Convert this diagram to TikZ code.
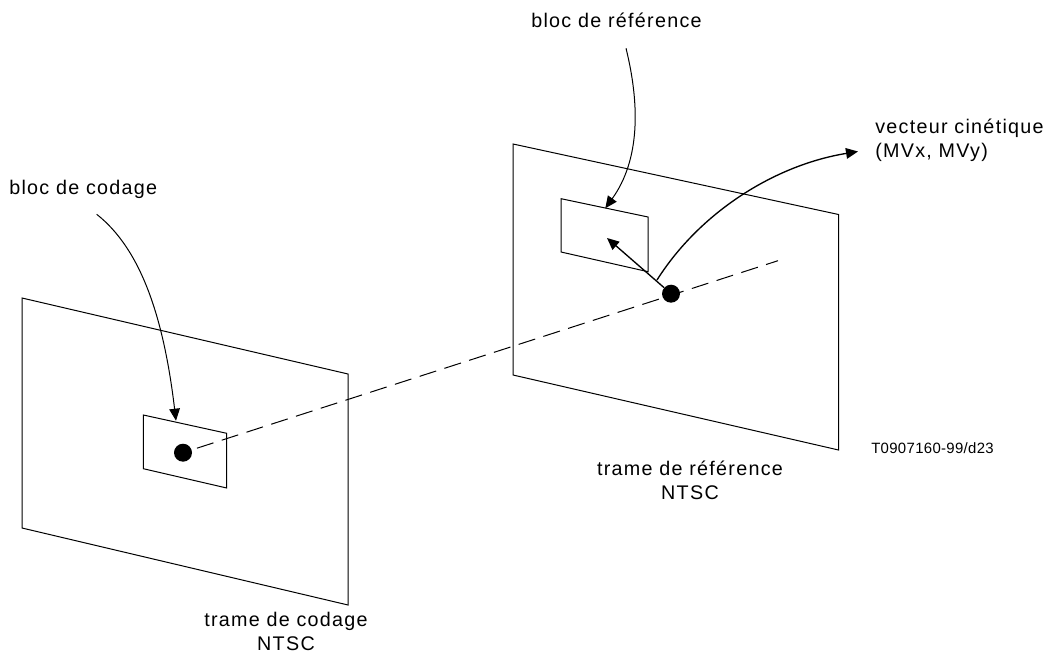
\documentclass[tikz,border=0pt]{standalone}
\usepackage{fontspec}
\setmainfont{Liberation Sans}
\newfontfamily\lblfont[LetterSpace=6.5]{Liberation Sans}
\newfontfamily\refidfont[LetterSpace=2.2]{Liberation Sans}
\usetikzlibrary{arrows.meta}
\tikzset{
  x=0.75pt,y=-0.75pt,
  frame/.style={draw=black,line width=0.75pt,line join=miter},
  lbl/.style={inner sep=0pt,font=\lblfont\fontsize{14.8pt}{18pt}\selectfont,align=center},
  arrowline/.style={draw=black,line width=0.75pt,-{Triangle[length=9pt,width=8pt]}},
  dotmark/.style={circle,fill=black,draw=none,minimum size=13.5pt,inner sep=0pt},
}
\begin{document}
\begin{tikzpicture}
\useasboundingbox (0,0) rectangle (1048,655);
% frames
\draw[frame] (22,298) -- (348,374) -- (348,605) -- (22,528) -- cycle;
\draw[frame] (513,144) -- (838.5,214.5) -- (838.5,450) -- (513,375) -- cycle;
\draw[frame] (143.3,415) -- (226.7,433.3) -- (226.7,488) -- (143.3,468.7) -- cycle;
\draw[frame] (561,198.7) -- (648,217) -- (648,271.7) -- (561,252) -- cycle;
% dashed line and dots
\coordinate (c1) at (183,452.7);
\coordinate (dashend) at (778,260.7);
\draw[black,line width=0.75pt,dash pattern=on 13pt off 6.5pt,shorten <=11pt] (c1) -- (dashend);
\node[dotmark] (d1) at (c1) {};
\node[dotmark] (d2) at (671,293.7) {};
% labels
\node[lbl,anchor=west] (l1) at (9,189.5) {bloc de codage};
\node[lbl,anchor=west] (l2) at (531,20.5) {bloc de référence};
\node[lbl,align=left,anchor=west] (l3) at (875,140) {vecteur cinétique\\(MVx, MVy)};
\node[lbl] (l6) at (286,631.5) {trame de codage\\NTSC};
\node[lbl] (l7) at (690,480.5) {trame de référence\\NTSC};
\node[inner sep=0pt,font=\refidfont\fontsize{11.2pt}{13pt}\selectfont,anchor=west] (l8) at (871,448) {T0907160-99/d23};
% connectors
\coordinate (a1s) at (96.7,214.3);
\coordinate (a1e) at (176,420.7);
\draw[arrowline] (a1s) .. controls (142,250) and (164,320) .. (a1e);
\coordinate (a2s) at (626,48.3);
\coordinate (a2e) at (605.3,208.3);
\draw[arrowline] (a2s) .. controls (640,105) and (640,160) .. (a2e);
\coordinate (a3s) at (657,280);
\coordinate (a3e) at (858,151.5);
\draw[arrowline,line width=1pt] (a3s) .. controls (700,212) and (775,165) .. (a3e);
\coordinate (a4e) at (607,238);
\draw[arrowline,line width=1pt] (d2) -- (a4e);
\end{tikzpicture}
\end{document}
